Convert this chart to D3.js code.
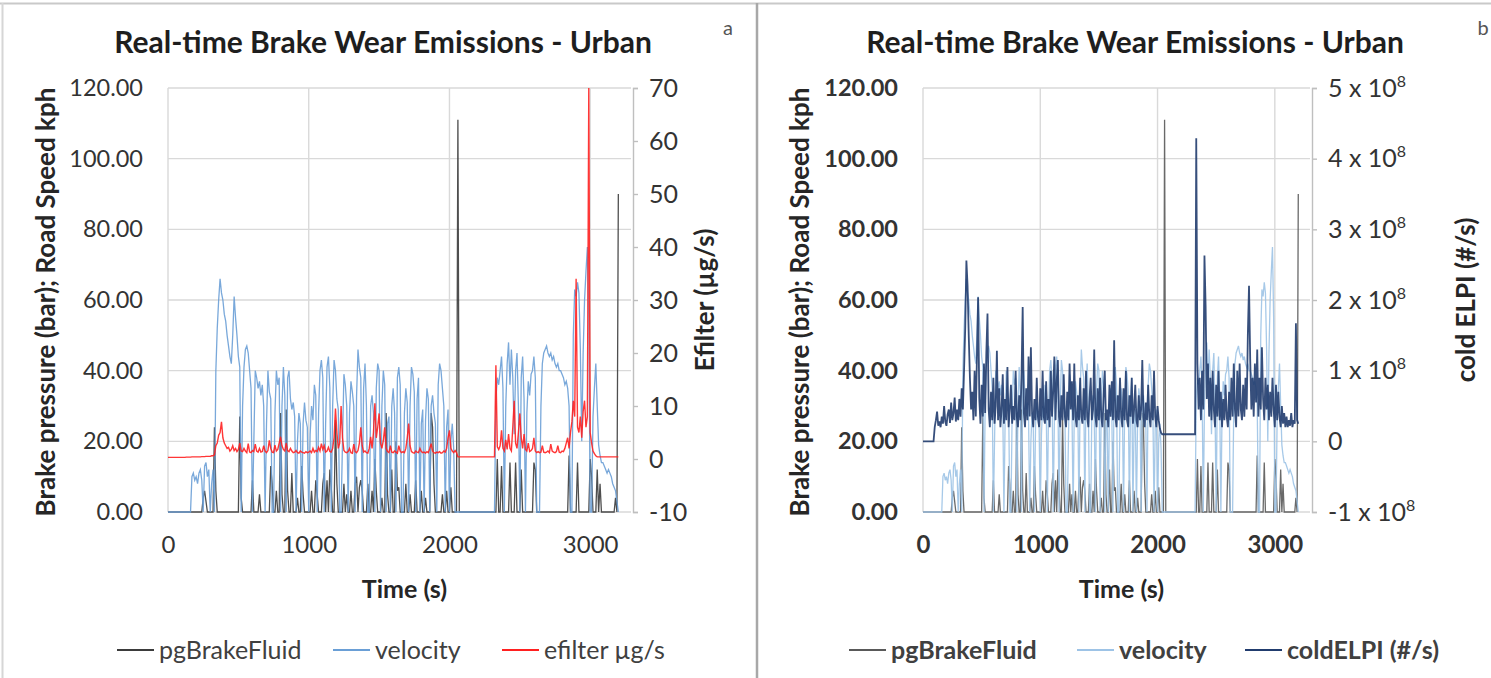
<!DOCTYPE html>
<html>
<head>
<meta charset="utf-8">
<script src="https://cdn.jsdelivr.net/npm/d3@7"></script>
<style>
  body { margin: 0; background: #fff; }
  svg { display: block; font-family: Lato, "Open Sans", sans-serif; }
</style>
</head>
<body>
<svg id="chart" width="1491" height="678"></svg>
<script>
// samples are 10 s apart, starting at t = 0
const timeStep = 10;
const timeTicks = [0, 1000, 2000, 3000];
const leftTicks = [0, 20, 40, 60, 80, 100, 120];
const efilterTicks = [-10, 0, 10, 20, 30, 40, 50, 60, 70];
const elpiTicks = [-1, 0, 1, 2, 3, 4, 5]; // x 10^8 #/s

const title = 'Real-time Brake Wear Emissions - Urban';
const seriesNamesA = ['pgBrakeFluid', 'velocity', 'efilter µg/s'];
const seriesNamesB = ['pgBrakeFluid', 'velocity', 'coldELPI (#/s)'];

// brake pressure (bar)
const brakeFluid = [
  0,0,0,0,0,0,0,0,0,0,
  0,0,0,0,0,0,0,0,0,0,
  0,0,0,0,0,4,6,3,0,0,
  0,0,0,24,6,0,0,0,0,0,
  0,0,0,0,0,0,0,0,0,0,
  0,27,4,0,0,0,0,0,0,0,
  9,0,0,0,0,5,0,0,0,0,
  0,0,0,13,8,0,0,6,0,0,
  28,5,0,0,29,6,0,0,11,0,
  0,0,4,0,0,13,5,0,0,0,
  0,0,6,0,0,9,5,0,0,0,
  8,11,0,9,0,12,7,0,0,26,
  8,0,0,0,0,8,0,5,0,0,
  6,0,0,8,10,0,7,9,6,0,
  0,0,8,0,0,6,0,15,6,0,
  0,0,4,0,0,28,5,0,0,12,
  0,0,20,6,7,0,0,0,0,8,
  0,0,5,0,0,0,9,0,0,0,
  6,0,0,4,0,0,0,28,24,8,
  0,0,0,0,0,5,0,0,6,0,
  0,7,0,0,0,0,111,0,0,0,
  0,0,0,0,0,0,0,0,0,0,
  0,0,0,0,0,0,0,0,0,0,
  0,0,0,0,15,0,0,13,0,0,
  0,0,0,14,0,0,0,14,0,0,
  0,12,0,0,0,0,0,0,0,0,
  14,12,0,0,0,0,0,0,0,0,
  0,0,0,0,0,0,0,0,0,0,
  0,0,0,0,0,16,0,0,0,0,
  0,14,0,0,0,0,0,0,0,0,
  15,10,0,0,0,12,0,8,0,0,
  0,0,0,0,0,0,0,0,4,0,
  90
];

// road speed (kph)
const velocity = [
  0,0,0,0,0,0,0,0,0,0,
  0,0,0,0,0,0,0,10,11,9,
  10,8,11,12,9,0,13,14,10,12,
  0,8,12,0,40,52,60,66,62,60,
  56,54,50,47,44,42,50,61,55,50,
  44,41,0,30,41,46,47,45,40,35,
  0,20,40,38,35,37,33,36,30,0,
  25,40,34,32,0,0,28,40,36,38,
  0,30,41,33,0,38,40,32,29,31,
  27,0,20,28,25,0,25,31,26,24,
  0,22,30,26,36,33,0,28,40,43,
  38,0,25,41,44,35,0,30,43,40,
  32,29,0,0,20,39,36,30,0,28,
  37,34,30,0,33,46,41,38,0,35,
  42,30,0,0,30,33,28,0,35,42,
  40,0,30,40,36,0,25,27,0,30,
  35,28,0,38,41,36,0,0,28,35,
  31,0,30,41,39,34,0,32,38,0,
  25,29,0,26,35,32,0,30,33,28,
  25,0,36,42,40,35,30,0,24,29,
  0,20,25,18,0,0,0,0,0,0,
  0,0,0,0,0,0,0,0,0,0,
  0,0,0,0,0,0,0,0,0,0,
  0,0,0,32,38,36,40,44,35,0,
  30,42,48,36,46,38,22,40,45,30,
  0,38,44,32,0,28,37,33,39,40,
  44,38,0,0,0,30,42,45,46,47,
  45,44,45,43,44,42,41,42,40,40,
  39,38,36,37,35,30,0,0,50,63,
  61,65,62,46,20,45,60,68,75,55,
  0,0,27,35,42,30,19,16,14,14,
  13,12,11,12,11,10,8,7,6,3,
  0
];

// efilter (µg/s)
const efilter = [
  0.3,0.3,0.3,0.3,0.3,0.3,0.3,0.3,0.3,0.3,
  0.3,0.3,0.3,0.35,0.35,0.35,0.35,0.4,0.4,0.4,
  0.4,0.4,0.4,0.4,0.45,0.45,0.45,0.5,0.5,0.5,
  0.5,0.6,0.6,0.8,2.5,3,4.5,5,7,4,
  3,2.5,2,2.2,1.5,1.8,2.5,1.6,2,1.4,
  1.8,3,1.5,1.4,2,1.5,1.2,2.9,1.3,1.2,
  1.6,1.4,2.8,1.5,1.3,2,1.3,1.4,2.5,1.5,
  1.2,1.6,3.5,2,1.3,1.2,2.6,1.5,1.8,3,
  4.2,2.5,1.8,1.5,3,1.6,1.4,2,1.5,1.2,
  1.3,1.6,1.2,1.1,1.5,1.3,1.2,1.1,1.4,1.2,
  1.3,1.5,1.2,2,1.3,1.6,1.4,2.2,1.5,2.9,
  1.8,2.5,1.3,1.5,2.2,1.4,1.3,2,4,9.5,
  5,2,3,10,4,1.6,1.3,1.2,1.4,2,
  1.2,1.1,2.8,1.4,1.2,1.6,3,6,2.5,1.3,
  1.5,1.2,1.1,2,4.2,2,5,10.5,4,6,
  8.6,3,2,3.5,6,2,1.4,1.2,2.5,1.3,
  1.2,1.5,1.3,1.1,2.5,1.5,1.2,1.4,1.2,2,
  4,6.7,2.5,1.4,1.2,1.1,1.5,1.3,1.2,2,
  1.4,1.2,1.3,1.1,1.4,1.2,2,2.9,1.5,1.2,
  1.1,1.3,1.2,1.4,1.1,1.2,1.5,1.3,2,4,
  5.4,2,1.5,1.2,1.6,1.2,0.4,0.4,0.4,0.4,
  0.4,0.4,0.4,0.4,0.4,0.4,0.4,0.4,0.4,0.4,
  0.4,0.4,0.4,0.4,0.4,0.4,0.4,0.4,0.4,0.4,
  0.4,0.4,0.4,17.7,2.3,1.8,2.5,5.4,2,1.5,
  3.6,1.8,4.7,2,1.5,6,11,3,2,5,
  8.6,4,2,4.7,1.8,1.5,3,1.4,1.6,2,
  4,1.5,1.2,1.4,1.2,1.3,2.5,1.3,1.2,1.3,
  1.5,1.2,2.8,1.5,1.3,1.2,1.4,2.5,1.3,1.2,
  1.5,1.4,2,3,4,2,5,7,11,8,
  34,6,5,8,4,9,11,6,8,70,
  5,3,1.5,1,0.6,0.4,0.4,0.4,0.4,0.4,
  0.4,0.4,0.4,0.4,0.4,0.4,0.4,0.4,0.4,0.4,
  0.4
];

// cold ELPI (x 10^8 #/s)
const coldElpi = [
  0,0,0,0,0,0,0,0,0,0,
  0.2,0.3,0.42,0.22,0.28,0.2,0.35,0.25,0.5,0.28,
  0.22,0.38,0.45,0.26,0.55,0.3,0.4,0.62,0.28,0.45,
  0.3,0.6,0.35,0.75,0.45,1.0,1.6,2.56,2.2,1.5,
  0.9,0.45,0.7,0.3,1.0,0.35,1.2,2.04,0.6,0.25,
  0.8,0.35,1.1,0.4,1.25,1.81,0.45,0.2,0.7,0.3,
  0.9,0.25,0.5,1.28,0.3,0.75,0.2,0.45,0.95,0.25,
  0.6,0.3,1.05,0.2,0.45,0.8,0.25,0.5,0.3,1.0,
  0.35,0.2,0.65,0.3,0.9,1.9,0.4,0.2,0.75,0.3,
  1.2,0.35,1.33,0.4,0.2,0.6,0.3,0.9,0.35,0.2,
  0.75,0.3,1.0,0.35,0.25,0.85,0.3,0.6,0.2,1.0,
  0.35,0.7,1.2,0.3,0.85,1.15,0.35,0.2,0.65,0.3,
  0.95,0.35,0.2,0.7,0.3,1.1,0.45,0.85,0.3,1.1,
  0.35,0.2,0.65,0.3,0.9,0.35,0.25,0.75,0.3,1.0,
  0.35,0.2,0.6,0.9,0.3,0.45,1.3,0.35,0.2,0.75,
  0.3,0.9,0.35,0.2,0.65,1.0,0.3,0.45,0.2,0.8,
  0.35,0.85,0.3,1.43,0.35,0.2,0.65,0.3,0.9,0.35,
  0.2,0.75,0.3,1.0,0.3,0.2,0.65,0.35,0.9,0.25,
  0.45,0.8,0.3,0.2,0.65,0.3,0.45,1.15,0.35,0.2,
  0.55,0.3,0.8,0.35,0.2,0.65,0.3,1.0,0.35,0.2,
  0.5,0.3,0.18,0.12,0.1,0.1,0.1,0.1,0.1,0.1,
  0.1,0.1,0.1,0.1,0.1,0.1,0.1,0.1,0.1,0.1,
  0.1,0.1,0.1,0.1,0.1,0.1,0.1,0.1,0.1,0.1,
  0.1,0.1,0.1,4.29,1.1,0.45,0.9,0.3,1.0,0.45,
  2.63,1.9,0.6,1.1,0.35,0.9,0.3,1.0,0.45,0.2,
  0.8,0.35,1.0,0.3,0.7,0.2,0.6,0.3,0.8,0.35,
  0.2,0.7,0.3,0.9,0.35,1.1,0.45,0.2,1.0,0.35,
  1.1,0.45,0.3,0.8,0.35,0.9,0.45,1.5,2.2,1.17,
  0.45,0.9,0.35,1.1,0.55,1.3,0.35,0.9,0.45,1.33,
  0.6,0.3,0.9,0.45,0.8,0.3,0.7,0.35,0.9,0.45,
  0.2,0.8,0.3,0.7,0.35,0.2,0.5,0.25,0.4,0.2,
  0.35,0.2,0.3,0.22,0.4,0.2,0.3,0.25,1.67,0.3,
  0.25
];

const svg = d3.select('#chart');

// panel frames
svg.append('line').attr('x1', 0).attr('x2', 1491).attr('y1', 3.5).attr('y2', 3.5)
  .attr('stroke', '#c9c9c9').attr('stroke-width', 2);
svg.append('line').attr('x1', 2.5).attr('x2', 2.5).attr('y1', 3).attr('y2', 678)
  .attr('stroke', '#d6d6d6').attr('stroke-width', 2);
svg.append('line').attr('x1', 757).attr('x2', 757).attr('y1', 3).attr('y2', 678)
  .attr('stroke', '#a8a8a8').attr('stroke-width', 2.5);

function drawPanel(cfg) {
  const g = svg.append('g');
  const top = 88, bottom = 512;

  const x = d3.scaleLinear().domain([0, cfg.tMax]).range([cfg.left, cfg.right]);
  const y = d3.scaleLinear().domain([0, 120]).range([bottom, top]);
  const y2 = d3.scaleLinear().domain(d3.extent(cfg.rightTicks)).range([bottom, top]);

  // gridlines
  g.append('g').selectAll('line').data(leftTicks).join('line')
    .attr('x1', cfg.left).attr('x2', cfg.right)
    .attr('y1', d => y(d)).attr('y2', d => y(d))
    .attr('stroke', '#d9d9d9').attr('stroke-width', 1.4);
  g.append('g').selectAll('line').data(timeTicks).join('line')
    .attr('x1', d => x(d)).attr('x2', d => x(d))
    .attr('y1', top).attr('y2', bottom)
    .attr('stroke', '#d9d9d9').attr('stroke-width', 1.4);

  const weight = cfg.bold ? 'bold' : 'normal';

  // left axis
  const left = g.append('g').attr('transform', `translate(${cfg.left},0)`)
    .call(d3.axisLeft(y).tickValues(leftTicks).tickFormat(d3.format('.2f')).tickSize(0).tickPadding(25));
  left.select('.domain').remove();
  left.selectAll('text').attr('font-size', 23.5).attr('font-weight', weight)
    .attr('fill', '#333').attr('font-family', 'Lato, sans-serif');

  // bottom axis
  const bot = g.append('g').attr('transform', `translate(0,${bottom})`)
    .call(d3.axisBottom(x).tickValues(timeTicks).tickFormat(d3.format('d')).tickSize(0).tickPadding(24));
  bot.select('.domain').remove();
  bot.selectAll('text').attr('font-size', 24).attr('font-weight', weight)
    .attr('fill', '#333').attr('font-family', 'Lato, sans-serif');

  // right axis
  const right = g.append('g').attr('transform', `translate(${cfg.right + 2},0)`)
    .call(d3.axisRight(y2).tickValues(cfg.rightTicks).tickSize(5).tickPadding(11));
  right.select('.domain').attr('stroke', '#bfbfbf').attr('stroke-width', 1.4);
  right.selectAll('line').attr('stroke', '#bfbfbf').attr('stroke-width', 1.4);
  right.selectAll('text').attr('font-size', 25).attr('fill', '#333')
    .attr('font-family', 'Lato, sans-serif')
    .each(function (d) {
      const t = d3.select(this).text('');
      if (cfg.sci && d !== 0) {
        t.append('tspan').text(d + ' x 10');
        t.append('tspan').attr('font-size', 16).attr('dy', -10).text('8');
      } else {
        t.text(d);
      }
    });

  // series
  const lineL = d3.line().x((d, i) => x(i * timeStep)).y(d => y(d));
  const lineR = d3.line().x((d, i) => x(i * timeStep)).y(d => y2(d));

  g.append('path').datum(brakeFluid).attr('d', lineL).attr('fill', 'none')
    .attr('stroke', cfg.colors[0]).attr('stroke-width', 1.3).attr('stroke-opacity', 0.9);
  g.append('path').datum(velocity).attr('d', lineL).attr('fill', 'none')
    .attr('stroke', cfg.colors[1]).attr('stroke-width', 1.3).attr('stroke-opacity', 0.9);
  g.append('path').datum(cfg.rightData).attr('d', lineR).attr('fill', 'none')
    .attr('stroke', cfg.colors[2]).attr('stroke-width', cfg.rightWidth).attr('stroke-opacity', 0.9);

  // titles
  g.append('text').attr('x', cfg.titleX).attr('y', 53)
    .attr('text-anchor', 'middle').attr('font-size', 30).attr('font-weight', 'bold')
    .attr('fill', '#1e1e1e').text(title);
  g.append('text').attr('x', cfg.tagX).attr('y', 35).attr('text-anchor', 'middle')
    .attr('font-size', 20).attr('fill', '#555').text(cfg.tag);
  g.append('text').attr('x', (cfg.left + cfg.right) / 2 + 5).attr('y', 598)
    .attr('text-anchor', 'middle').attr('font-size', 25).attr('font-weight', 'bold')
    .attr('fill', '#262626').text('Time (s)');
  g.append('text').attr('transform', `translate(${cfg.leftTitleX},302) rotate(-90)`)
    .attr('text-anchor', 'middle').attr('font-size', 26).attr('font-weight', 'bold')
    .attr('fill', '#262626').text('Brake pressure (bar); Road Speed kph');
  g.append('text').attr('transform', `translate(${cfg.rightTitleX},300) rotate(-90)`)
    .attr('text-anchor', 'middle').attr('font-size', 26).attr('font-weight', 'bold')
    .attr('fill', '#262626').text(cfg.rightTitle);

  // legend
  const leg = g.append('g').selectAll('g').data(cfg.names).join('g')
    .attr('transform', (d, i) => `translate(${cfg.legendX[i]},650)`);
  leg.append('line').attr('x1', 0).attr('x2', 37)
    .attr('stroke', (d, i) => cfg.colors[i]).attr('stroke-width', 2);
  leg.append('text').attr('x', 42).attr('dy', '0.35em').attr('font-size', 25)
    .attr('font-weight', weight).attr('fill', '#404040').text(d => d);
}

drawPanel({
  tMax: 3290, left: 168, right: 631,
  rightTicks: efilterTicks, rightData: efilter, sci: false,
  colors: ['#3b3b3b', '#6a9fd6', '#ff2020'], rightWidth: 1.4,
  names: seriesNamesA, legendX: [117, 333, 502],
  tag: 'a', tagX: 728, bold: false, titleX: 383,
  leftTitleX: 55, rightTitleX: 714, rightTitle: 'Efilter (µg/s)'
});

drawPanel({
  tMax: 3300, left: 923, right: 1310,
  rightTicks: elpiTicks, rightData: coldElpi, sci: true,
  colors: ['#595959', '#9dc3e6', '#213c6e'], rightWidth: 1.8,
  names: seriesNamesB, legendX: [849, 1077, 1245],
  tag: 'b', tagX: 1483, bold: true, titleX: 1135,
  leftTitleX: 809, rightTitleX: 1475, rightTitle: 'cold ELPI (#/s)'
});
</script>
</body>
</html>
